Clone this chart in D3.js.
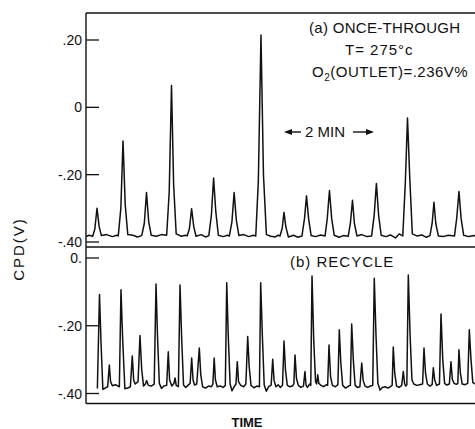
<!DOCTYPE html>
<html>
<head>
<meta charset="utf-8">
<script src="https://cdn.jsdelivr.net/npm/d3@7"></script>
<style>
  body { margin: 0; background: #fff; }
  svg { display: block; }
  text { font-family: "Liberation Sans", Arial, sans-serif; fill: #111; }
</style>
</head>
<body>
<svg id="chart" width="475" height="429"></svg>
<script>
// time in seconds, CPD in volts
const topTrace = [
  [0, -0.384], [4, -0.380],
  [9, -0.383], [12, -0.362], [15, -0.300], [18, -0.355], [21, -0.381],
  [28, -0.378], [36, -0.384], [42, -0.380],
  [44, -0.382], [47.5, -0.300], [50.5, -0.100], [53.5, -0.290], [57, -0.378],
  [64, -0.380], [70, -0.385], [76, -0.381],
  [79.5, -0.345], [82.5, -0.253], [85.5, -0.340], [89, -0.380],
  [96, -0.383], [103, -0.378], [110, -0.380],
  [113.5, -0.250], [116.6, 0.065], [119.5, -0.230], [123, -0.376],
  [130, -0.383], [136, -0.380],
  [138, -0.382], [141, -0.360], [144, -0.301], [147, -0.355], [150, -0.383],
  [157, -0.378], [163, -0.385], [167.5, -0.381],
  [171, -0.320], [174, -0.210], [177, -0.310], [180.5, -0.380],
  [187, -0.384], [193, -0.380],
  [195.5, -0.382], [199, -0.340], [202, -0.253], [205, -0.335], [208.5, -0.381],
  [215, -0.378], [222, -0.384], [228, -0.380],
  [231.5, -0.382], [235, -0.220], [238.6, 0.215], [242, -0.200], [246, -0.378],
  [252, -0.383], [258, -0.385], [262, -0.380],
  [264.5, -0.382], [267.5, -0.360], [270, -0.312], [272.5, -0.355], [276, -0.385],
  [283, -0.380], [289, -0.386], [294.5, -0.382],
  [298, -0.330], [300.7, -0.263], [303.5, -0.330], [307, -0.381],
  [313, -0.384], [320, -0.379], [326, -0.382],
  [329, -0.330], [332, -0.247], [335, -0.330], [338.5, -0.380],
  [345, -0.386], [351, -0.381], [357.5, -0.383],
  [360.5, -0.345], [363.4, -0.276], [366, -0.345], [369.5, -0.382],
  [376, -0.378], [383, -0.384], [389.5, -0.382],
  [393, -0.320], [396, -0.226], [399, -0.320], [402.5, -0.380],
  [409, -0.384], [415, -0.379], [422, -0.388], [427, -0.376], [432, -0.382],
  [435.5, -0.220], [438.4, -0.032], [441.5, -0.210], [445, -0.376],
  [451, -0.382], [458, -0.379], [464, -0.386], [469, -0.381],
  [472, -0.345], [474.5, -0.282], [477, -0.345], [480.5, -0.382],
  [487, -0.384], [494, -0.380], [502.5, -0.382],
  [505.5, -0.330], [508.6, -0.250], [511.5, -0.330], [515, -0.380],
  [522, -0.384], [530, -0.381], [540, -0.383]
]

const bottomTrace = [
  [15.5, -0.385], [18.4, -0.108], [20.5, -0.250], [23, -0.388], [26, -0.384],
  [29.5, -0.380], [31.8, -0.316], [33.5, -0.365], [36, -0.377], [40, -0.374], [45.5, -0.380],
  [47.7, -0.094], [50, -0.240], [53, -0.386], [57, -0.384], [60.5, -0.380],
  [63.1, -0.289], [65, -0.360], [67, -0.372], [71, -0.365],
  [73.6, -0.229], [76, -0.330], [78.5, -0.378], [81, -0.372], [82.8, -0.362], [85, -0.376],
  [89, -0.378], [93, -0.372],
  [95.5, -0.077], [97.5, -0.230], [100, -0.370], [103, -0.385], [106, -0.378], [110, -0.376],
  [112.2, -0.277], [114, -0.360], [117, -0.378], [120, -0.370], [121.4, -0.354], [123, -0.376], [126, -0.380],
  [128.2, -0.080], [130.5, -0.240], [133, -0.375], [136, -0.382], [139, -0.376], [142, -0.370],
  [144.1, -0.295], [146, -0.360], [148, -0.375], [151, -0.372],
  [154.5, -0.266], [156.5, -0.345], [159, -0.380], [163, -0.384], [167, -0.378], [171, -0.380], [173, -0.372],
  [174.8, -0.295], [176.5, -0.360], [179, -0.380], [183, -0.378], [187, -0.382], [190, -0.376],
  [191.9, -0.073], [194, -0.230], [196.5, -0.372], [199, -0.392], [202, -0.380], [204.5, -0.372],
  [206.3, -0.306], [208, -0.365], [211, -0.376], [215, -0.380], [218, -0.372],
  [220.5, -0.232], [222.5, -0.320], [225, -0.376], [229, -0.383], [233, -0.378], [236.5, -0.380],
  [238.2, -0.073], [240.5, -0.230], [243, -0.375], [246, -0.393], [249, -0.380], [252.5, -0.375],
  [254.6, -0.299], [256.5, -0.362], [259, -0.380], [262, -0.374], [265, -0.382], [268, -0.375],
  [270, -0.245], [272, -0.330], [274.5, -0.376], [278, -0.380], [282, -0.377], [283.5, -0.370],
  [285, -0.286], [287, -0.355], [289.5, -0.376], [293, -0.382], [296.5, -0.378],
  [298.6, -0.335], [300, -0.375], [302, -0.382], [305, -0.372], [306.5, -0.376],
  [308.2, -0.053], [310.5, -0.240], [313, -0.365], [314.5, -0.372], [316, -0.345], [317.5, -0.370],
  [320, -0.375], [324, -0.380], [328, -0.374], [329.5, -0.376],
  [331.4, -0.257], [333.5, -0.350], [336, -0.376], [340, -0.380], [343.5, -0.374],
  [345.4, -0.212], [347.5, -0.310], [350, -0.376], [354, -0.384], [358, -0.378], [360.5, -0.376],
  [362.3, -0.195], [364.5, -0.300], [367, -0.376], [370, -0.382], [373.5, -0.380],
  [376, -0.310], [378, -0.362], [380.5, -0.378], [384, -0.382], [388, -0.378], [391, -0.376],
  [393.1, -0.060], [395.5, -0.230], [398, -0.370], [401, -0.390], [404, -0.382], [408, -0.380],
  [412, -0.384], [416, -0.378], [417.5, -0.376],
  [419, -0.263], [421, -0.340], [423.5, -0.378], [427, -0.382], [430.5, -0.376],
  [432.7, -0.335], [434.5, -0.372], [436, -0.378], [437.5, -0.374],
  [439.5, -0.050], [442, -0.230], [444.5, -0.360], [447, -0.372], [451, -0.376], [455, -0.374], [459, -0.372],
  [460.9, -0.266], [463, -0.340], [465.5, -0.372], [469, -0.378], [472, -0.374],
  [473.6, -0.324], [475.5, -0.360], [478, -0.376], [482, -0.372],
  [484.1, -0.165], [486.5, -0.300], [489, -0.370], [492, -0.375], [495.5, -0.372],
  [497.7, -0.306], [499.5, -0.358], [502, -0.370], [505, -0.373], [507, -0.370],
  [508.6, -0.271], [510.5, -0.340], [513, -0.372], [517, -0.374], [520.5, -0.370],
  [522.7, -0.212], [525, -0.300], [527.5, -0.368], [531, -0.372], [536, -0.370], [540, -0.372]
]

const topTicks = [0.2, 0, -0.2, -0.4]
const topTickLabels = [".20", "0", "-.20", "-.40"]
const bottomTicks = [0, -0.2, -0.4]
const bottomTickLabels = ["0.", "-.20", "-.40"]

const svg = d3.select("#chart")

// layout (pixels)
const left = 86, right = 482
const topY = 13, midY = 247, botY = 403.5

const x = d3.scaleLinear().domain([0, 540]).range([left, right])
const yTop = d3.scaleLinear().domain([-0.4, 0.2]).range([242, 40])
const yBot = d3.scaleLinear().domain([-0.4, 0]).range([393.5, 258])

// frame
const frame = svg.append("g").attr("stroke", "#111").attr("stroke-width", 1.4).attr("fill", "none")
frame.append("line").attr("x1", left).attr("x2", right).attr("y1", topY).attr("y2", topY)
frame.append("line").attr("x1", left).attr("x2", right).attr("y1", midY).attr("y2", midY)
frame.append("line").attr("x1", left).attr("x2", right).attr("y1", botY).attr("y2", botY)
frame.append("line").attr("x1", left).attr("x2", left).attr("y1", topY).attr("y2", botY)

// inward ticks + labels
function drawTicks(scale, ticks, labels, fontSize) {
  const g = svg.append("g")
  g.selectAll("line")
    .data(ticks)
    .join("line")
    .attr("x1", left)
    .attr("x2", left + 13)
    .attr("y1", (d) => scale(d))
    .attr("y2", (d) => scale(d))
    .attr("stroke", "#111")
    .attr("stroke-width", 1.3)
  g.selectAll("text")
    .data(ticks)
    .join("text")
    .attr("x", left - 4)
    .attr("y", (d) => scale(d))
    .attr("dy", "0.36em")
    .attr("text-anchor", "end")
    .attr("font-size", fontSize)
    .text((d, i) => labels[i])
}
drawTicks(yTop, topTicks, topTickLabels, 14)
drawTicks(yBot, bottomTicks, bottomTickLabels, 14)

// traces
const lineTop = d3.line().x((d) => x(d[0])).y((d) => yTop(d[1]))
const lineBot = d3.line().x((d) => x(d[0])).y((d) => yBot(d[1]))

svg.append("path")
  .attr("d", lineTop(topTrace))
  .attr("fill", "none")
  .attr("stroke", "#111")
  .attr("stroke-width", 1.5)
  .attr("stroke-linejoin", "round")

svg.append("path")
  .attr("d", lineBot(bottomTrace))
  .attr("fill", "none")
  .attr("stroke", "#111")
  .attr("stroke-width", 1.5)
  .attr("stroke-linejoin", "round")

// axis titles
svg.append("text")
  .attr("transform", "translate(24,249) rotate(-90)")
  .attr("text-anchor", "middle")
  .attr("font-size", 15)
  .attr("letter-spacing", 2)
  .text("CPD(V)")

svg.append("text")
  .attr("x", 247)
  .attr("y", 427)
  .attr("text-anchor", "middle")
  .attr("font-size", 13)
  .attr("font-weight", "bold")
  .text("TIME")

// annotations
svg.append("text").attr("x", 309).attr("y", 33).attr("font-size", 15).attr("letter-spacing", 0.3).text("(a) ONCE-THROUGH")
svg.append("text").attr("x", 345).attr("y", 55).attr("font-size", 15).attr("letter-spacing", 1).text("T= 275°c")

const o2 = svg.append("text").attr("x", 312).attr("y", 77).attr("font-size", 15).attr("letter-spacing", 0.5)
o2.append("tspan").text("O")
o2.append("tspan").attr("font-size", 10).attr("dy", 4).text("2")
o2.append("tspan").attr("dy", -4).text("(OUTLET)=.236V%")

svg.append("text").attr("x", 305).attr("y", 137).attr("font-size", 15).text("2 MIN")

const arrows = svg.append("g").attr("stroke", "#111").attr("stroke-width", 1.4)
arrows.append("line").attr("x1", 286).attr("x2", 301).attr("y1", 132).attr("y2", 132)
arrows.append("line").attr("x1", 353).attr("x2", 372).attr("y1", 132).attr("y2", 132)
svg.append("path").attr("d", "M284,132 L292,129 L292,135 Z").attr("fill", "#111")
svg.append("path").attr("d", "M374,132 L366,129 L366,135 Z").attr("fill", "#111")

svg.append("text").attr("x", 290).attr("y", 267).attr("font-size", 15).attr("letter-spacing", 1).text("(b) RECYCLE")
</script>
</body>
</html>
